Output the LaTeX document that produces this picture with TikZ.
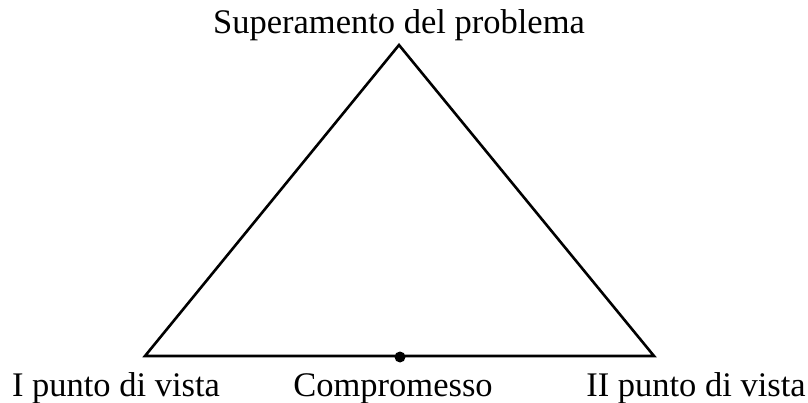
\documentclass[tikz,border=0pt]{standalone}
\usepackage{fontspec}
\setmainfont{Liberation Serif}
\begin{document}
\begin{tikzpicture}[x=1pt,y=-1pt,
  lbl/.style={font=\fontsize{34.5}{40}\selectfont, inner sep=0pt, anchor=base},
  edge/.style={line width=2.6pt, line join=miter}]
\useasboundingbox (0,0) rectangle (808,403);
\coordinate (A) at (399,45);
\coordinate (B) at (145,356);
\coordinate (C) at (654,356);
\coordinate (M) at (400,357);
\draw[edge] (A) -- (B) -- (C) -- cycle;
\fill (M) circle (5.5);
\node[lbl] (top) at (399,34) {Superamento del problema};
\node[lbl] (l1) at (116,396) {I punto di vista};
\node[lbl] (l2) at (393,396) {Compromesso};
\node[lbl] (l3) at (696,396) {II punto di vista};
\end{tikzpicture}
\end{document}
